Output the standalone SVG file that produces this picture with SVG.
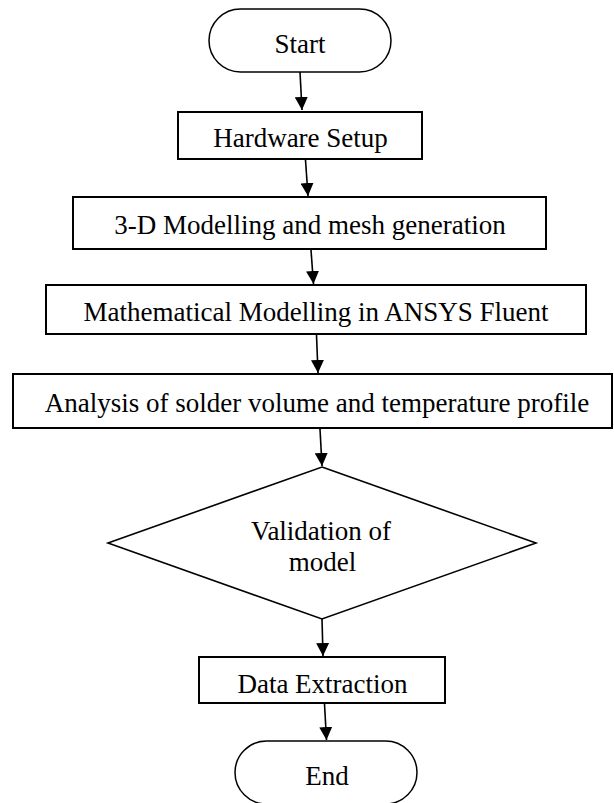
<svg xmlns="http://www.w3.org/2000/svg" width="614" height="803" viewBox="0 0 614 803">
<defs>
<style>
.box{fill:#fff;stroke:#000;stroke-width:2}
.term{fill:#fff;stroke:#000;stroke-width:1.5}
.dia{fill:#fff;stroke:#000;stroke-width:1.6}
text{font-family:'Liberation Serif','Times New Roman','DejaVu Serif',serif;font-size:27px;fill:#000;text-anchor:middle}
.conn{stroke:#000;stroke-width:1.6;fill:none;marker-end:url(#ah)}
</style>
<marker id="ah" markerUnits="userSpaceOnUse" markerWidth="14" markerHeight="13" refX="13" refY="6.5" orient="auto">
<path d="M0,0 L13,6.5 L0,13 z" fill="#000"/>
</marker>
</defs>
<rect width="614" height="803" fill="#fff"/>
<g id="connectors">
<line class="conn" x1="300" y1="72" x2="302" y2="110"/>
<line class="conn" x1="305.5" y1="160" x2="308" y2="196"/>
<line class="conn" x1="311" y1="250" x2="313.5" y2="284"/>
<line class="conn" x1="316.5" y1="335" x2="318" y2="373"/>
<line class="conn" x1="320" y1="429" x2="322" y2="466"/>
<line class="conn" x1="322" y1="619" x2="323" y2="656"/>
<line class="conn" x1="324.5" y1="704" x2="326.5" y2="740"/>
</g>
<g id="start">
<rect class="term" x="209" y="9" width="182" height="63" rx="31.5" ry="31.5"/>
<text x="300" y="53" font-family="Liberation Serif, serif">Start</text>
</g>
<g id="hardware">
<rect class="box" x="178" y="112" width="244" height="47"/>
<text x="300.5" y="147" font-family="Liberation Serif, serif">Hardware Setup</text>
</g>
<g id="modelling">
<rect class="box" x="73" y="197" width="473" height="52"/>
<text x="310" y="234" font-family="Liberation Serif, serif">3-D Modelling and mesh generation</text>
</g>
<g id="math">
<rect class="box" x="46" y="285" width="540" height="49"/>
<text x="316" y="321" font-family="Liberation Serif, serif">Mathematical Modelling in ANSYS Fluent</text>
</g>
<g id="analysis">
<rect class="box" x="13" y="374" width="599" height="54"/>
<text x="317" y="412" font-family="Liberation Serif, serif">Analysis of solder volume and temperature profile</text>
</g>
<g id="validation">
<polygon class="dia" points="322,467 536,543 322,619 108,543"/>
<text x="321" y="540" font-family="Liberation Serif, serif">Validation of</text>
<text x="322.5" y="571" font-family="Liberation Serif, serif">model</text>
</g>
<g id="data">
<rect class="box" x="199" y="657" width="246" height="46"/>
<text x="322.5" y="693" font-family="Liberation Serif, serif">Data Extraction</text>
</g>
<g id="end">
<rect class="term" x="235" y="741" width="182" height="63" rx="31.5" ry="31.5"/>
<text x="327" y="785" font-family="Liberation Serif, serif">End</text>
</g>
</svg>
